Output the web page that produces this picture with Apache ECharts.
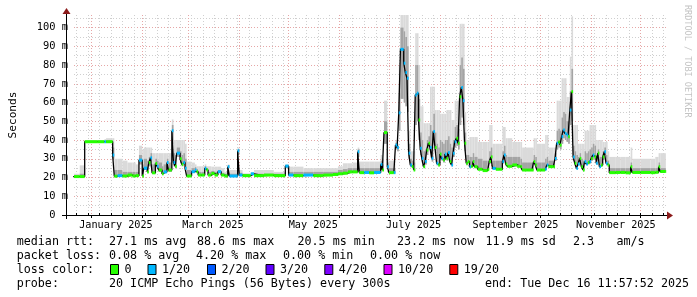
<!DOCTYPE html>
<html><head><meta charset="utf-8">
<script src="https://cdn.jsdelivr.net/npm/echarts@6/dist/echarts.min.js"></script>
<style>html,body{margin:0;padding:0;background:#fff}#c{width:697px;height:297px}</style>
</head><body><div id="c"></div>
<script>
// ---- data ----
const dates = ['2024-12-21','2024-12-25','2024-12-28','2025-01-05','2025-01-09','2025-01-10','2025-01-14','2025-01-15','2025-01-17','2025-01-20',
'2025-01-23','2025-01-26','2025-01-28','2025-01-30','2025-02-01','2025-02-02','2025-02-04','2025-02-05','2025-02-06','2025-02-07',
'2025-02-09','2025-02-10','2025-02-11','2025-02-13','2025-02-14','2025-02-16','2025-02-17','2025-02-19','2025-02-20','2025-02-21',
'2025-02-22','2025-02-24','2025-02-25','2025-02-26','2025-02-27','2025-02-28','2025-03-03','2025-03-05','2025-03-06','2025-03-07',
'2025-03-09','2025-03-11','2025-03-12','2025-03-13','2025-03-15','2025-03-17','2025-03-19','2025-03-21','2025-03-23','2025-03-25',
'2025-03-26','2025-03-31','2025-04-01','2025-04-03','2025-04-08','2025-04-10','2025-04-16','2025-04-22','2025-04-29','2025-05-01',
'2025-05-04','2025-05-10','2025-05-16','2025-05-22','2025-05-28','2025-05-31','2025-06-03','2025-06-06','2025-06-09','2025-06-12',
'2025-06-13','2025-06-16','2025-06-19','2025-06-22','2025-06-26','2025-06-27','2025-06-28','2025-06-30','2025-07-01','2025-07-04',
'2025-07-05','2025-07-06','2025-07-07','2025-07-08','2025-07-10','2025-07-11','2025-07-12','2025-07-13','2025-07-14','2025-07-15',
'2025-07-16','2025-07-17','2025-07-18','2025-07-19','2025-07-20','2025-07-21','2025-07-22','2025-07-23','2025-07-24','2025-07-25',
'2025-07-26','2025-07-27','2025-07-28','2025-07-29','2025-07-30','2025-07-31','2025-08-01','2025-08-02','2025-08-03','2025-08-04',
'2025-08-05','2025-08-06','2025-08-07','2025-08-08','2025-08-09','2025-08-10','2025-08-11','2025-08-12','2025-08-13','2025-08-14',
'2025-08-15','2025-08-16','2025-08-17','2025-08-18','2025-08-19','2025-08-20','2025-08-21','2025-08-22','2025-08-24','2025-08-27',
'2025-08-30','2025-08-31','2025-09-01','2025-09-02','2025-09-04','2025-09-06','2025-09-08','2025-09-09','2025-09-10','2025-09-11',
'2025-09-14','2025-09-17','2025-09-19','2025-09-20','2025-09-23','2025-09-26','2025-09-27','2025-09-28','2025-09-29','2025-10-02',
'2025-10-04','2025-10-05','2025-10-06','2025-10-09','2025-10-10','2025-10-11','2025-10-12','2025-10-13','2025-10-14','2025-10-15',
'2025-10-16','2025-10-17','2025-10-18','2025-10-19','2025-10-20','2025-10-21','2025-10-22','2025-10-23','2025-10-24','2025-10-25',
'2025-10-26','2025-10-27','2025-10-28','2025-10-29','2025-10-30','2025-10-31','2025-11-01','2025-11-02','2025-11-03','2025-11-04',
'2025-11-05','2025-11-06','2025-11-07','2025-11-08','2025-11-09','2025-11-10','2025-11-11','2025-11-12','2025-11-16','2025-11-19',
'2025-11-22','2025-11-25','2025-11-26','2025-12-01','2025-12-07','2025-12-10','2025-12-12','2025-12-13','2025-12-16'];

const medianMs = [20.5,20.5,39.1,39.1,39.1,39.1,32,20.7,21,20.8,
21.3,20.8,21,29.3,20.8,25,23,28,30.5,22.5,
27.5,26,24,22,23,28,24,45,28,26,
33,30,27,28,25,20.8,23.1,24,23.1,21.3,
21.3,24.9,24,21.3,22.2,21.3,23.1,21.3,20.8,25.8,
20.8,34.3,21.3,21,22,21,21.3,21,26.1,21.3,
21,21.3,21,21.3,21.6,22,22.3,23,23,33.8,
22.6,22.7,22.5,22.7,27,24,44,25.8,22.6,22.6,
37.3,36,54.5,88.4,81,76,73,33,26.7,25.8,
24,64,65,50.7,35.6,30.2,25.8,28.5,34.7,38.3,
36,30.2,44.5,36,27.6,26.7,32.5,30.2,29.3,32.5,
30.2,33.3,28.5,26.7,33,39.1,40.9,38.3,63.1,68.1,
61,38.3,27.6,28.5,25.8,26,28.5,25.8,24.4,23.7,
24.2,28.5,31,24.9,24.4,24.4,28.5,32,27.2,26,
26.7,26,25.8,24,24,24,28.5,26.7,24,24,
24.5,26.7,25.8,25.8,30.2,38.3,39,37.3,41.8,45.4,
43.5,42.7,41.8,56,65.8,31,27.6,24.9,27.2,30.2,
25.8,24,28.5,27.2,28,28.5,30.2,32,31,27.6,
33,25.8,26.7,31,33.8,27.6,26.7,22.6,22.7,22.7,
22.5,25.8,22.7,22.7,22.6,22.8,25.8,23.2,23.2];

const smokeHighMs = [22,26.5,40,40,40.5,41,41,30,30,29,
28,28,27,37,35,36,36,36,36,33,
33,33,33,33,33,33,33,51,40,40,
40,40,40,40,38,28.5,28,27,26,26,
26,27,26,26,25.8,25.8,25.8,25,23,27,
24,36,24,22.2,22.5,24,24,23,27,25.8,
25.8,25,25,25,25,26,27.6,27.6,28,36,
28.5,28.5,28.5,28.5,32,30,61,30,29,29,
40,38,80,106.7,106.7,106.7,106.7,45,34,34,
34,97,97,80,58,58,49,49,49,49,
68.5,68.5,68.5,56,56,56,54,54,54,54,
56,56,56,50.7,50.7,61,61,61,102,102,
102,55,40,40,41.6,41.6,41.6,41.6,39,39,
39,48,48,38,38,38,47,47,41,41,
39,39,39,36,36,36,41,41,38,38,
42.7,42.7,36,36,36,61,61,61,73,73,
73,63,63,84.5,106,48,48,48,38,38,
38,38,45,45,45,48,48,48,48,40,
40,40,40,39,39,39,34,31,31,31,
31,36,30,30,30,31,33,33,33];

const smokeMidMs = [21,22,39.6,39.6,39.6,40,36,24,24,23,
23,23,23,32,27,30,29,31,33,27,
30,29,28,26,27,30,28,48,33,32,
36,34,32,33,30,24,25,25.5,24.5,23,
23,26,25,23,23.5,23,24,22.5,22,26.5,
22,35,22.5,21.5,22.2,22,22,22,26.5,23,
23,23,23,23,23,24,24.5,25,25,35,
25,25,25,25,29,27,50,28,25,25,
38.5,37,65,100,98,95,90,38,30,29,
28,80,80,62,44,40,34,35,40,42,
48,45,54,44,38,36,40,39,38,40,
40,42,38,36,40,47,48,46,80,84,
78,44,32,32,31,31,33,31,30,29,
29,34,36,29,29,29,34,37,32,31,
31,31,30,28,28,28,32,31,28,28,
30,31,29,29,33,45,46,45,52,55,
54,50,50,66,78,37,34,32,31,33,
30,29,34,33,34,35,36,38,37,32,
35,31,31,34,36,32,29,25,25,25,
25,28,25,25,25,25,28,25,25];

const smokeLowMs = [20.3,20.3,38.8,38.8,38.8,38.8,30,20.5,20.7,20.6,
21,20.6,20.8,27,20.6,24,22.5,26,28,22,
26,25,23,21.7,22.5,26,23,38,26,25,
31,28,26,27,24,20.6,22.5,23.5,22.8,21,
21,24,23.5,21,22,21,22.5,21,20.6,25,
20.6,32,21,20.8,21.7,20.8,21,20.8,25,21,
20.8,21,20.8,21,21.3,21.7,22,22.6,22.6,31,
22.3,22.4,22.2,22.4,26,23.5,38,25,22.3,22.3,
35,34,45,62,60,58,55,30,25.5,25,
23.5,48,50,40,32,28,25,27,32,35,
33,28.5,38,33,26.5,26,30,29,28,30,
29,31,27.5,26,31,36,37,35,48,52,
48,34,26.5,27.5,25,25.5,27.5,25,24,23.4,
24,27.5,29,24.4,24,24,27.5,30,26.5,25.5,
26,25.5,25.3,23.7,23.7,23.7,27.5,26,23.7,23.7,
24,26,25.3,25.3,29,35,36,35,38,41,
40,39,38,48,50,29,27,24.5,26.5,29,
25.3,23.7,27.5,26.5,27,27.5,29,30,29.5,27,
31,25.3,26,29.5,32,27,26,22.3,22.4,22.4,
22.2,25,22.4,22.4,22.3,22.5,25,22.9,22.9];

const lossCount = [0,0,0,0,1,0,1,0,1,0,
0,0,0,1,0,1,0,0,1,0,
0,1,0,0,1,1,0,1,1,0,
1,0,0,1,1,0,1,1,0,0,
0,1,0,0,0,0,1,0,0,1,
1,1,1,0,1,0,0,0,1,1,
0,1,0,0,0,0,0,0,0,1,
0,1,0,1,1,0,0,1,0,1,
1,1,1,1,1,1,1,1,1,0,
0,1,1,0,1,1,0,1,0,0,
1,1,1,0,1,0,0,1,0,1,
0,1,0,1,1,1,0,0,0,1,
1,0,0,0,1,0,0,0,0,0,
0,0,0,1,0,0,1,1,0,0,
0,0,0,0,0,0,0,0,0,0,
1,1,0,0,1,1,0,0,1,1,
1,1,0,1,0,1,0,1,1,0,
0,0,1,1,0,1,0,1,0,1,
0,1,0,0,1,1,0,0,0,0,
0,0,0,0,0,0,0,0,0];

const startTime = '2024-12-21 11:57:52';
const endTime = '2025-12-16 11:57:52';
const yMaxMs = 106.72;
const yTickValues = [0,10,20,30,40,50,60,70,80,90,100];
const yMinorValues = [5,15,25,35,45,55,65,75,85,95,105];
const xLabelDates = ['2025-01-16','2025-03-16','2025-05-16','2025-07-16','2025-09-16','2025-11-16'];
const xLabelTexts = ['January 2025','March 2025','May 2025','July 2025','September 2025','November 2025'];
const lossLevels = [0,1,2,3,4,10,19];
const lossLabels = ['0','1/20','2/20','3/20','4/20','10/20','19/20'];
const lossColors = ['#26ff00','#00b8ff','#0059ff','#5e00ff','#7e00ff','#dd00ff','#ff0000'];

// ---- helpers ----
function ts(s){
  const parts = s.split(' ');
  const d = parts[0].split('-').map(Number);
  const t = parts[1] ? parts[1].split(':').map(Number) : [0,0,0];
  return new Date(d[0], d[1]-1, d[2], t[0], t[1], t[2]).getTime();
}
function colorFor(loss){
  let c = lossColors[0];
  for (let i = 0; i < lossLevels.length; i++) if (loss >= lossLevels[i]) c = lossColors[i];
  return c;
}
const tMin = ts(startTime), tMax = ts(endTime);
const times = dates.map(ts);

const monthStarts = [];
for (let m = 0; m < 12; m++) monthStarts.push(new Date(2025, m, 1).getTime());
const weekStarts = [];
for (let d = new Date(2024, 11, 23); d.getTime() < tMax; d = new Date(d.getFullYear(), d.getMonth(), d.getDate() + 7)) weekStarts.push(d.getTime());
const labelTimes = xLabelDates.map(ts);

const nextTime = i => (i + 1 < times.length ? times[i+1] : tMax);
const baseData = times.map((t,i) => [t, medianMs[i]]);
const smokeData = times.map((t,i) => [t, medianMs[i], nextTime(i), smokeLowMs[i], smokeMidMs[i], smokeHighMs[i]]);
const dashData = times.map((t,i) => [t, medianMs[i], nextTime(i), lossCount[i]]);

const MONO = '"DejaVu Sans Mono", monospace';
const gridMinor = '#cfcfcf', gridMajor = '#e6a6a6';

const chart = echarts.init(document.getElementById('c'), null, {renderer: 'canvas'});

const legendFont = '11.7px ' + MONO;
const graphics = [];
function txt(x, y, s){ graphics.push({type:'text', x:x, y:y, silent:true, style:{text:s, font:legendFont, fill:'#000', align:'left', verticalAlign:'middle'}}); }
txt(16.7, 241.5, 'median rtt:');
txt(109, 241.5, '27.1 ms avg');
txt(197, 241.5, '88.6 ms max');
txt(297.5, 241.5, '20.5 ms min');
txt(397, 241.5, '23.2 ms now');
txt(485.5, 241.5, '11.9 ms sd');
txt(573, 241.5, '2.3');
txt(616.5, 241.5, 'am/s');
txt(16.7, 255.5, 'packet loss:');
txt(109, 255.5, '0.08 % avg');
txt(196, 255.5, '4.20 % max');
txt(283, 255.5, '0.00 % min');
txt(370, 255.5, '0.00 % now');
txt(16.7, 269.5, 'loss color:');
const boxX = [110.5, 148, 207.5, 266, 324.8, 384, 449.8];
lossLabels.forEach((lab, i) => {
  graphics.push({type:'rect', silent:true, shape:{x:boxX[i], y:264.5, width:8, height:10}, style:{fill:lossColors[i], stroke:'#000', lineWidth:1}});
  txt(boxX[i] + 14, 269.5, lab);
});
txt(16.7, 283.5, 'probe:');
txt(109, 283.5, '20 ICMP Echo Pings (56 Bytes) every 300s');
txt(485, 283.5, 'end: Tue Dec 16 11:57:52 2025');
graphics.push({type:'text', x:687, y:5, rotation:-Math.PI/2, silent:true, style:{text:'RRDTOOL / TOBI OETIKER', font:'8.5px ' + MONO, fill:'#c4c4c4', align:'left', verticalAlign:'middle'}});
graphics.push({type:'line', silent:true, shape:{x1:62, y1:215.5, x2:668, y2:215.5}, style:{stroke:'#000', lineWidth:1}, z:50});
graphics.push({type:'line', silent:true, shape:{x1:66.5, y1:219, x2:66.5, y2:13}, style:{stroke:'#000', lineWidth:1}, z:50});
graphics.push({type:'polygon', silent:true, shape:{points:[[667,211.5],[667,219.5],[673,215.5]]}, style:{fill:'#8b1a1a'}, z:51});
graphics.push({type:'polygon', silent:true, shape:{points:[[62.5,14],[70.5,14],[66.5,8]]}, style:{fill:'#8b1a1a'}, z:51});

function stepRect(api, params, yLo, yHi, color){
  const a = api.coord([api.value(0), yHi]);
  const b = api.coord([api.value(2), yLo]);
  const x0 = Math.max(a[0], params.coordSys.x);
  const x1 = Math.min(b[0], params.coordSys.x + params.coordSys.width);
  return {type:'rect', shape:{x:x0, y:a[1], width:Math.max(0, x1 - x0), height:Math.max(0, b[1] - a[1])}, style:{fill:color}};
}

const option = {
  animation: false,
  backgroundColor: '#ffffff',
  grid: {left: 66, top: 15, width: 600, height: 200, containLabel: false},
  xAxis: [
    {type:'value', min:tMin, max:tMax, position:'bottom', scale:true,
     axisLine:{show:false},
     axisTick:{show:true, customValues: weekStarts, length:2, inside:true, lineStyle:{color:'#000'}},
     axisLabel:{show:false, customValues: weekStarts},
     splitLine:{show:true, lineStyle:{color:gridMinor, type:[1,2], width:1}}},
    {type:'value', min:tMin, max:tMax, position:'bottom', scale:true,
     axisLine:{show:false},
     axisTick:{show:true, customValues: monthStarts, length:3, lineStyle:{color:'#000'}},
     axisLabel:{show:true, customValues: labelTimes, margin:5, color:'#000', fontFamily:'DejaVu Sans Mono', fontSize:10.2,
       formatter: function(v){ const i = labelTimes.indexOf(v); return i >= 0 ? xLabelTexts[i] : ''; }},
     splitLine:{show:true, lineStyle:{color:gridMajor, type:[1,2], width:1}}}
  ],
  yAxis: [
    {type:'value', min:0, max:yMaxMs, position:'left',
     name:'Seconds', nameLocation:'middle', nameRotate:90, nameGap:55,
     nameTextStyle:{fontFamily:'DejaVu Sans Mono', fontSize:11.2, color:'#000'},
     axisLine:{show:false},
     axisTick:{show:false, customValues: yTickValues},
     axisLabel:{show:true, customValues: yTickValues, margin:6, color:'#000', fontFamily:'DejaVu Sans Mono', fontSize:10.4,
       formatter: function(v){ return v === 0 ? '0\u00a0\u00a0' : v + ' m'; }},
     splitLine:{show:true, lineStyle:{color:gridMajor, type:[1,2], width:1}}},
    {type:'value', min:0, max:yMaxMs, position:'left',
     axisLine:{show:false}, axisTick:{show:false, customValues: yMinorValues}, axisLabel:{show:false, customValues: yMinorValues},
     splitLine:{show:true, lineStyle:{color:gridMinor, type:[1,2], width:1}}}
  ],
  series: [
    {name:'smoke', type:'custom', xAxisIndex:1, yAxisIndex:0, data:smokeData, encode:{x:0, y:1}, silent:true, z:2,
     renderItem: function(params, api){
       return {type:'group', children:[
         stepRect(api, params, api.value(3), api.value(5), '#dadada'),
         stepRect(api, params, api.value(3), api.value(4), '#a4a4a4')
       ]};
     }},
    {name:'median', type:'line', xAxisIndex:1, yAxisIndex:0, step:'end', data:baseData, symbol:'none', showSymbol:false, lineStyle:{width:1.3, color:'#000'}, silent:true, z:4},
    {name:'loss', type:'custom', xAxisIndex:1, yAxisIndex:0, data:dashData, encode:{x:0, y:1}, silent:true, z:5,
     renderItem: function(params, api){
       const p0 = api.coord([api.value(0), api.value(1)]);
       const p1 = api.coord([api.value(2), api.value(1)]);
       const x0 = Math.max(p0[0], params.coordSys.x);
       const w = Math.max(1, p1[0] - x0);
       return {type:'rect', shape:{x:x0, y:p0[1]-1.5, width:w, height:3}, style:{fill: colorFor(api.value(3))}};
     }}
  ],
  graphic: graphics
};
chart.setOption(option);
</script>
</body></html>
